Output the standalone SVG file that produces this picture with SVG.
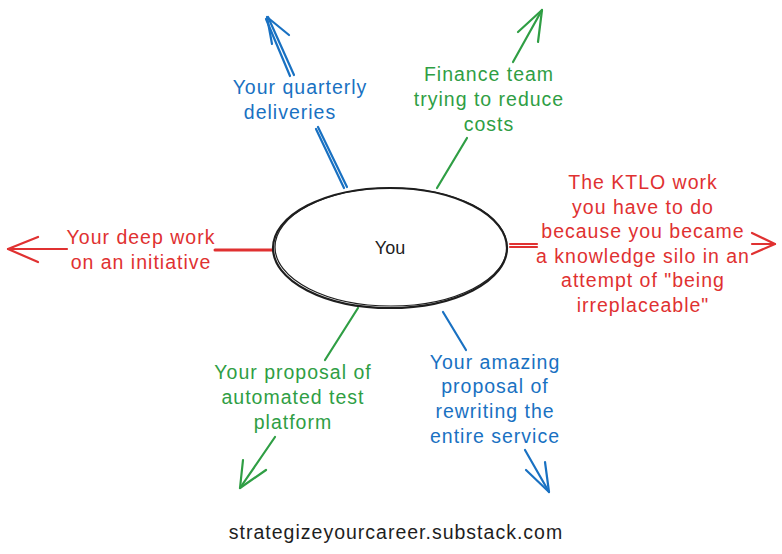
<svg xmlns="http://www.w3.org/2000/svg" width="782" height="554" viewBox="0 0 782 554">
<style>
  text { font-family: "Liberation Sans", "Noto Sans", sans-serif; font-size: 19.5px; letter-spacing: 1px; text-anchor: middle; }
  .blue { fill: #1971c2; }
  .green { fill: #2f9e44; }
  .red { fill: #e03131; }
  .blk { fill: #1e1e1e; }
  .lb { stroke: #1971c2; }
  .lg { stroke: #2f9e44; }
  .lr { stroke: #e03131; }
  line, polyline { stroke-width: 2.2; fill: none; stroke-linecap: round; stroke-linejoin: round; }
</style>
<rect width="782" height="554" fill="#ffffff"/>

<g id="connectors">
  <!-- blue up -->
  <g>
    <line class="lb" x1="347" y1="187" x2="318" y2="127"/>
    <line class="lb" x1="344" y1="188" x2="316" y2="129"/>
    <line class="lb" x1="294" y1="75" x2="268" y2="17"/>
    <line class="lb" x1="290" y1="76" x2="266" y2="19"/>
    <polyline class="lb" points="289,35 267,17 272,44"/>
  </g>
  <!-- green up -->
  <g>
    <line class="lg" x1="437" y1="188" x2="467" y2="138"/>
    <line class="lg" x1="513" y1="62" x2="542" y2="10"/>
    <polyline class="lg" points="518,32 542,10 538,42"/>
  </g>
  <!-- red left -->
  <g>
    <line class="lr" x1="273" y1="250" x2="215" y2="250" style="stroke-width:3"/>
    <line class="lr" x1="67" y1="249" x2="8" y2="249"/>
    <polyline class="lr" points="38,237 8,249 38,262"/>
  </g>
  <!-- red right -->
  <g>
    <line class="lr" x1="510" y1="244" x2="537" y2="244"/>
    <line class="lr" x1="510" y1="247" x2="537" y2="247"/>
    <line class="lr" x1="752" y1="244" x2="775" y2="244"/>
    <polyline class="lr" points="752,233 775,244 752,254"/>
  </g>
  <!-- green down -->
  <g>
    <line class="lg" x1="358" y1="308" x2="325" y2="360"/>
    <line class="lg" x1="275" y1="437" x2="240" y2="488"/>
    <polyline class="lg" points="243,460 240,488 266,470"/>
  </g>
  <!-- blue down -->
  <g>
    <line class="lb" x1="443" y1="312" x2="466" y2="350"/>
    <line class="lb" x1="525" y1="450" x2="549" y2="492"/>
    <polyline class="lb" points="526,470 549,492 545,462"/>
  </g>
</g>

<g id="you">
  <ellipse cx="390" cy="248" rx="117" ry="60" fill="#ffffff" stroke="#1e1e1e" stroke-width="2.2"/>
  <ellipse cx="391" cy="247" rx="116" ry="59" fill="none" stroke="#1e1e1e" stroke-width="1.2"/>
  <text class="blk" x="390" y="254" style="font-size:18px;letter-spacing:0">You</text>
</g>

<g id="quarterly">
  <text class="blue" x="300" y="94">Your quarterly</text>
  <text class="blue" x="290" y="119">deliveries</text>
</g>

<g id="finance">
  <text class="green" x="489" y="81">Finance team</text>
  <text class="green" x="489" y="106">trying to reduce</text>
  <text class="green" x="489" y="131">costs</text>
</g>

<g id="deepwork">
  <text class="red" x="141" y="244">Your deep work</text>
  <text class="red" x="141" y="269">on an initiative</text>
</g>

<g id="ktlo">
  <text class="red" x="643" y="189">The KTLO work</text>
  <text class="red" x="643" y="214">you have to do</text>
  <text class="red" x="643" y="238">because you became</text>
  <text class="red" x="643" y="263">a knowledge silo in an</text>
  <text class="red" x="643" y="287">attempt of "being</text>
  <text class="red" x="643" y="312">irreplaceable"</text>
</g>

<g id="testplatform">
  <text class="green" x="293" y="379">Your proposal of</text>
  <text class="green" x="293" y="404">automated test</text>
  <text class="green" x="293" y="429">platform</text>
</g>

<g id="rewrite">
  <text class="blue" x="495" y="369">Your amazing</text>
  <text class="blue" x="495" y="393">proposal of</text>
  <text class="blue" x="495" y="418">rewriting the</text>
  <text class="blue" x="495" y="443">entire service</text>
</g>

<g id="footer">
  <text class="blk" x="396" y="539">strategizeyourcareer.substack.com</text>
</g>
</svg>
